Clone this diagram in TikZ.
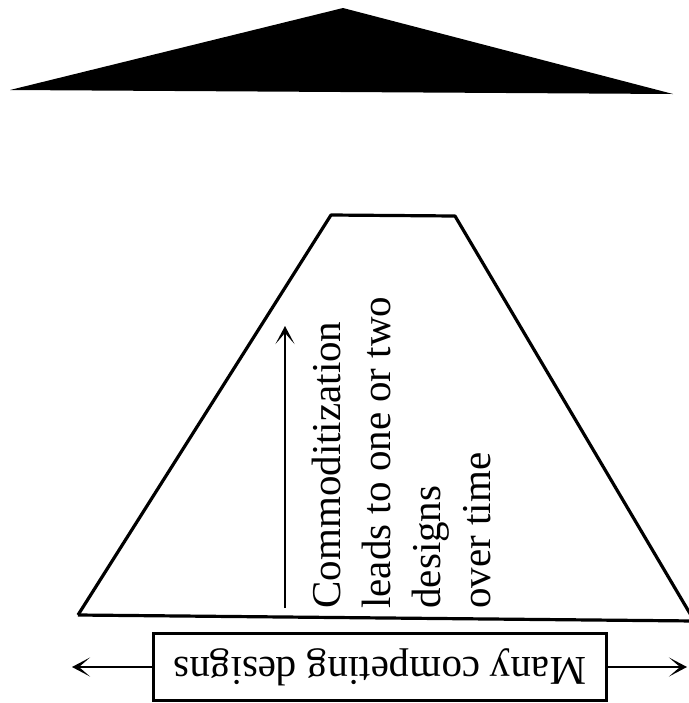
\documentclass[tikz,border=0pt]{standalone}
\usepackage{fontspec}
\setmainfont{Liberation Serif}
\usetikzlibrary{arrows.meta,positioning}

\begin{document}
\begin{tikzpicture}[
  x=0.5pt, y=-0.5pt,
  every node/.style={font=\fontsize{20.5}{25}\selectfont},
  outline/.style={draw=black, line width=1.6pt, line join=round},
  namebox/.style={draw=black, line width=1.4pt, minimum width=226.5pt,
                  minimum height=33.5pt, inner sep=0pt},
  >={Stealth[length=9pt,width=9.5pt,inset=5.5pt]}
]
\useasboundingbox (0,0) rectangle (689,703);

% dark triangle on top
\fill[black] (10,90) -- (343,8) -- (673,94) -- cycle;

% trapezoid
\draw[outline] (78,615) -- (331,215) -- (455,216) -- (695,622);
\draw[outline] (78,615) -- (695,621);

% upward arrow and rotated text
\coordinate (rise-start) at (285,608);
\coordinate (rise-end) at (285,326);
\draw[->, line width=1.4pt] (rise-start) -- (rise-end);

\node[rotate=90, anchor=north west, align=left, inner sep=0pt] (trend) at (312,609)
  {Commoditization\\leads to one or two\\designs\\over time};

% box with upside-down label
\node[namebox, rotate=180] (many) at (380,667) {Many competing designs};

\coordinate (spread-left) at (72,667);
\coordinate (spread-right) at (687,667);
\draw[->, line width=1.4pt] (many.east) -- (spread-left);
\draw[->, line width=1.4pt] (many.west) -- (spread-right);

\end{tikzpicture}
\end{document}
